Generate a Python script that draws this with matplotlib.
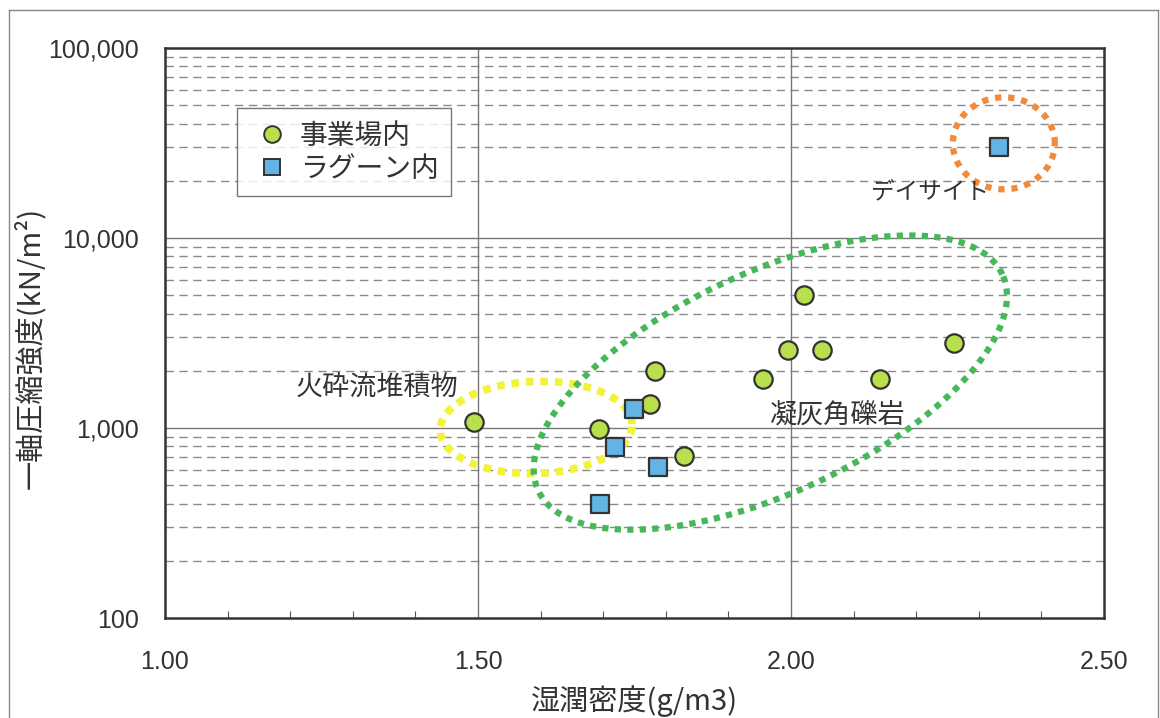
import numpy as np
import matplotlib
matplotlib.use("Agg")
import matplotlib.pyplot as plt
from matplotlib.ticker import FixedLocator, FuncFormatter, NullFormatter
from matplotlib.lines import Line2D

plt.rcParams['font.family'] = ['Noto Sans CJK JP', 'DejaVu Sans']

# ---- data ----
site_x = [1.493, 1.694, 1.774, 1.782, 1.829, 1.956, 1.995, 2.050, 2.021, 2.142, 2.260]
site_y = [1080, 985, 1345, 1995, 708, 1800, 2580, 2560, 4990, 1800, 2800]
lagoon_x = [1.749, 1.719, 1.788, 1.695, 2.333]
lagoon_y = [1262, 792, 620, 397, 30300]
series_names = ['事業場内', 'ラグーン内']
x_ticks = [1.00, 1.50, 2.00, 2.50]
y_ticks = [100, 1000, 10000, 100000]
group_labels = ['火砕流堆積物', '凝灰角礫岩', 'デイサイト']

W, H = 1160, 718
fig = plt.figure(figsize=(W / 100, H / 100), dpi=100)
ax = fig.add_axes([165 / W, 1 - 618 / H, (1104 - 165) / W, (618 - 48) / H])

ax.set_yscale('log')
ax.set_xlim(1.0, 2.5)
ax.set_ylim(100, 100000)

# grid
minor_y = [m * 10 ** e for e in range(2, 5) for m in range(2, 10)]
for v in minor_y:
    ax.axhline(v, color='#8a8a8a', lw=1.0, ls=(0, (6, 4)), zorder=0.5)
for v in y_ticks[1:-1]:
    ax.axhline(v, color='#777777', lw=1.0, zorder=0.6)
for v in x_ticks[1:-1]:
    ax.axvline(v, color='#777777', lw=1.0, zorder=0.6)

for s in ax.spines.values():
    s.set_linewidth(1.8)
    s.set_color('#333333')

ax.xaxis.set_major_locator(FixedLocator(x_ticks))
ax.xaxis.set_minor_locator(FixedLocator(np.arange(1.1, 2.45, 0.1)))
ax.xaxis.set_major_formatter(FuncFormatter(lambda v, p: f'{v:.2f}'))
ax.yaxis.set_major_locator(FixedLocator(y_ticks))
ax.yaxis.set_minor_locator(FixedLocator(minor_y))
ax.yaxis.set_major_formatter(FuncFormatter(lambda v, p: f'{int(round(v)):,}'))
ax.yaxis.set_minor_formatter(NullFormatter())
ax.tick_params(axis='x', which='major', length=0, pad=23, labelsize=18, labelcolor='#333333')
ax.tick_params(axis='x', which='minor', direction='in', length=5, width=0.8, color='#555555')
ax.tick_params(axis='y', which='major', length=0, pad=19, labelsize=18, labelcolor='#333333')
ax.tick_params(axis='y', which='minor', length=0)
for lab in ax.get_xticklabels() + ax.get_yticklabels():
    lab.set_family(['Liberation Sans', 'DejaVu Sans'])

ax.set_xlabel('湿潤密度(g/m3)', fontsize=21, color='#333333', labelpad=8)
ax.set_ylabel('一軸圧縮強度(kN/m²)', fontsize=21, color='#333333')
ax.yaxis.set_label_coords(-0.144, 0.474)
ax.yaxis.label.set_va('center')

# points
ax.scatter(site_x, site_y, s=175, marker='o', facecolor='#b8e04c', edgecolor='#333333',
           linewidth=1.6, zorder=5)
ax.scatter(lagoon_x, lagoon_y, s=175, marker='s', facecolor='#62b4e4', edgecolor='#333333',
           linewidth=1.6, zorder=5)


def dotted_ellipse(cx, cy, a_px, b_px, ang_deg, color, lw, dash):
    c = ax.transData.transform((cx, cy))
    t = np.linspace(0, 2 * np.pi, 600)
    th = np.radians(ang_deg)
    ex = a_px * np.cos(t)
    ey = b_px * np.sin(t)
    px = c[0] + ex * np.cos(th) - ey * np.sin(th)
    py = c[1] + ex * np.sin(th) + ey * np.cos(th)
    d = ax.transData.inverted().transform(np.column_stack([px, py]))
    ax.plot(d[:, 0], d[:, 1], color=color, lw=lw, ls=(0, dash),
            solid_capstyle='butt', dash_capstyle='butt', zorder=4)


dotted_ellipse(1.593, 1007, 96, 46, 2, '#f2f23a', 5.5, (1.0, 0.9))
dotted_ellipse(1.967, 1734, 256, 110, 25, '#46b85a', 4.5, (1.0, 1.0))
dotted_ellipse(2.340, 31500, 51, 46, 0, '#f08a3c', 4.5, (1.0, 1.1))

# group labels
ax.text(1.209, 1622, group_labels[0], fontsize=19.5, color='#333333', ha='left', va='center', zorder=6)
ax.text(1.966, 1170, group_labels[1], fontsize=19.5, color='#333333', ha='left', va='center', zorder=6)
ax.text(2.128, 17260, group_labels[2], fontsize=17, color='#333333', ha='left', va='center', zorder=6)

# legend
handles = [
    Line2D([], [], ls='none', marker='o', markersize=12, markerfacecolor='#b8e04c',
           markeredgecolor='#333333', markeredgewidth=1.4),
    Line2D([], [], ls='none', marker='s', markersize=12, markerfacecolor='#62b4e4',
           markeredgecolor='#333333', markeredgewidth=1.4),
]
leg = ax.legend(handles, series_names, loc='upper left', bbox_to_anchor=(0.077, 0.895),
                fontsize=20, frameon=True, fancybox=False, shadow=False,
                handletextpad=0.2, borderpad=0.45, labelspacing=0.12, handlelength=1.6,
                borderaxespad=0)
leg.get_frame().set_edgecolor('#555555')
leg.get_frame().set_linewidth(1.0)
for txt in leg.get_texts():
    txt.set_color('#333333')
leg.set_zorder(7)

# outer figure border
fig.add_artist(Line2D([9 / W, 9 / W], [0, 1 - 10 / H], color='#888888', lw=1.0))
fig.add_artist(Line2D([9 / W, 1158 / W], [1 - 10 / H, 1 - 10 / H], color='#888888', lw=1.0))
fig.add_artist(Line2D([1158 / W, 1158 / W], [0, 1 - 10 / H], color='#888888', lw=1.0))

fig.savefig('out.png', dpi=100)
